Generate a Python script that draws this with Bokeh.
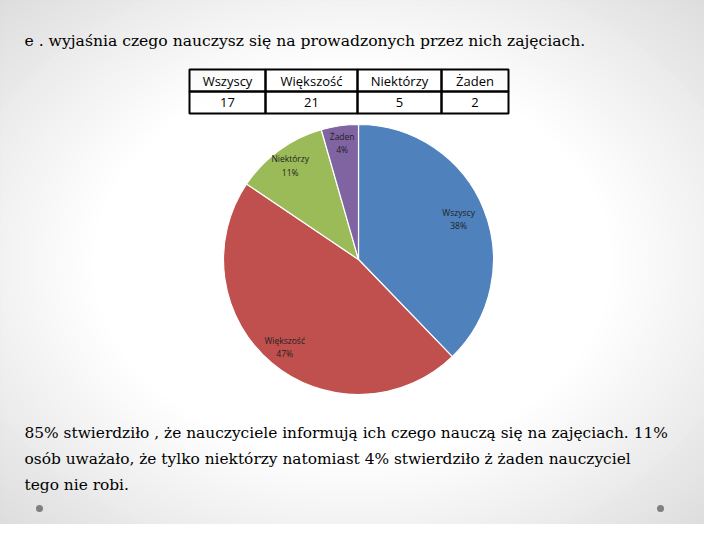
import numpy as np
from bokeh.plotting import figure
from bokeh.models import Range1d
from bokeh.embed import file_html
from bokeh.resources import INLINE
from bokeh.core.properties import value

# ---------------- data ----------------
categories = ["Wszyscy", "Większość", "Niektórzy", "Żaden"]
counts = [17, 21, 5, 2]
slice_colors = ["#4F81BD", "#C0504D", "#9BBB59", "#8064A2"]
title_text = "e . wyjaśnia czego nauczysz się na prowadzonych przez nich zajęciach."
paragraph_lines = [
    "85% stwierdziło , że nauczyciele informują ich czego nauczą się na zajęciach. 11%",
    "osób uważało, że tylko niektórzy natomiast 4% stwierdziło ż żaden nauczyciel",
    "tego nie robi.",
]

# ---------------- layout ----------------
W, H = 704, 524
def Y(yr):
    return 540 - yr

p = figure(width=W, height=H, x_range=Range1d(8, 712), y_range=Range1d(8, 532),
           output_backend="svg", toolbar_location=None, min_border=0)
p.axis.visible = False
p.grid.visible = False
p.outline_line_color = None
p.background_fill_color = "#d6d6d6"
p.border_fill_color = "#d6d6d6"

# background vignette
N = 45
scales = np.linspace(1.5, 0.65, N)
for s in scales:
    v = 255 - (s - 0.7) / 0.75 * 40
    v = int(max(min(v, 255), 210))
    c = "#%02x%02x%02x" % (v, v, v)
    p.ellipse(x=360, y=Y(270), width=720 * s * 1.05, height=540 * s * 1.05,
              fill_color=c, line_color=None)

SERIF = value("DejaVu Serif")

# title
p.text(x=[32], y=[Y(48)], text=[title_text], text_font=SERIF,
       text_font_size="15.6px", text_color="#000000", text_baseline="middle", text_align="left")

# table
col_edges = [197, 273, 365, 449, 516]
row_tops = [77, 99]
row_h = 22
centers = [(col_edges[i] + col_edges[i + 1]) / 2 for i in range(4)]
widths = [col_edges[i + 1] - col_edges[i] for i in range(4)]
for r, labels in zip(row_tops, [categories, [str(c) for c in counts]]):
    p.rect(x=centers, y=[Y(r + row_h / 2)] * 4, width=widths, height=row_h,
           fill_color=None, line_color="black", line_width=2)
    p.text(x=centers, y=[Y(r + row_h / 2)] * 4, text=labels, text_font=value("Open Sans"),
           text_font_size="13px", text_color="black", text_align="center", text_baseline="middle")

# pie
cx, cy, R = 366, Y(267), 135
total = sum(counts)
fr = np.array(counts) / total
cum = np.concatenate([[0], np.cumsum(fr)])
start = np.pi / 2 - 2 * np.pi * cum[:-1]
end = np.pi / 2 - 2 * np.pi * cum[1:]
p.wedge(x=cx, y=cy, radius=R, start_angle=start, end_angle=end, direction="clock",
        fill_color=slice_colors, line_color="white", line_width=1.2)

mid = np.pi / 2 - 2 * np.pi * (cum[:-1] + fr / 2)
lr = [0.8, 0.85, 0.86, 0.87]
lx = [cx + R * k * np.cos(a) for k, a in zip(lr, mid)]
ly = [cy + R * k * np.sin(a) for k, a in zip(lr, mid)]
labels = ["%s\n%d%%" % (c, round(f * 100)) for c, f in zip(categories, fr)]
p.text(x=lx, y=ly, text=labels, text_font=value("Open Sans"), text_font_size="8.5px",
       text_color="#222222", text_align="center", text_baseline="middle", text_line_height=1.2)

# paragraph
for i, line in enumerate(paragraph_lines):
    p.text(x=[32], y=[Y(440 + 26 * i)], text=[line], text_font=SERIF,
           text_font_size="15.4px", text_color="#000000", text_baseline="middle", text_align="left")

# dots
p.scatter(x=[47, 668], y=[Y(516), Y(516)], size=7, fill_color="#7f7f7f", line_color=None)

open("out.html", "w").write(file_html(p, INLINE))
